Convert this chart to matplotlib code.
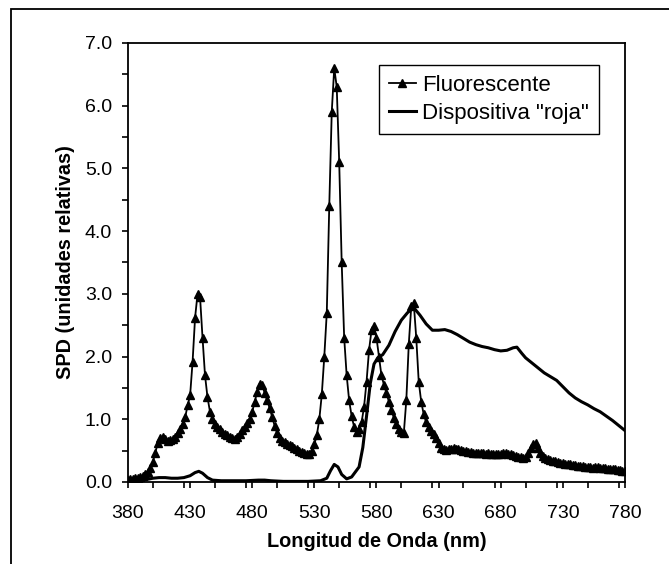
import matplotlib
matplotlib.use("Agg")
import matplotlib.pyplot as plt
from matplotlib.patches import Rectangle
from matplotlib.ticker import MultipleLocator, FormatStrFormatter

plt.rcParams['font.family'] = ['Liberation Sans', 'DejaVu Sans']

# Fluorescente, cada 2 nm (380..780)
wl_fluo = list(range(380, 781, 2))
spd_fluo = [
    0.03, 0.04, 0.05, 0.06, 0.07, 0.08, 0.10, 0.12, 0.16, 0.22,   # 380-398
    0.32, 0.47, 0.62, 0.70, 0.72, 0.68, 0.66, 0.67, 0.68, 0.72,   # 400-418
    0.78, 0.85, 0.93, 1.03, 1.22, 1.38, 1.92, 2.62, 3.00, 2.95,   # 420-438
    2.30, 1.70, 1.35, 1.12, 1.00, 0.93, 0.88, 0.84, 0.80, 0.77,   # 440-458
    0.75, 0.72, 0.70, 0.69, 0.72, 0.77, 0.83, 0.88, 0.94, 1.00,   # 460-478
    1.12, 1.28, 1.44, 1.57, 1.55, 1.42, 1.30, 1.18, 1.04, 0.90,   # 480-498
    0.78, 0.70, 0.66, 0.63, 0.61, 0.59, 0.57, 0.55, 0.53, 0.50,   # 500-518
    0.48, 0.47, 0.45, 0.44, 0.50, 0.60, 0.75, 1.00, 1.40, 2.00,   # 520-538
    2.70, 4.40, 5.90, 6.60, 6.30, 5.10, 3.50, 2.30, 1.70, 1.30,   # 540-558
    1.05, 0.88, 0.80, 0.85, 0.95, 1.20, 1.60, 2.10, 2.42, 2.48,   # 560-578
    2.30, 2.00, 1.70, 1.55, 1.42, 1.28, 1.15, 1.02, 0.93, 0.85,   # 580-598
    0.80, 0.78, 1.30, 2.20, 2.80, 2.85, 2.30, 1.60, 1.28, 1.08,   # 600-618
    0.95, 0.88, 0.82, 0.76, 0.70, 0.62, 0.55, 0.52, 0.51, 0.52,   # 620-638
    0.52, 0.54, 0.53, 0.52, 0.51, 0.50, 0.49, 0.48, 0.48, 0.47,   # 640-658
    0.47, 0.46, 0.46, 0.46, 0.45, 0.46, 0.45, 0.45, 0.45, 0.44,   # 660-678
    0.45, 0.46, 0.46, 0.45, 0.44, 0.43, 0.41, 0.40, 0.40, 0.39,   # 680-698
    0.40, 0.46, 0.54, 0.60, 0.62, 0.55, 0.47, 0.42, 0.38, 0.36,   # 700-718
    0.35, 0.34, 0.33, 0.32, 0.31, 0.30, 0.29, 0.29, 0.28, 0.27,   # 720-738
    0.27, 0.26, 0.25, 0.25, 0.24, 0.24, 0.24, 0.23, 0.24, 0.24,   # 740-758
    0.23, 0.22, 0.22, 0.21, 0.21, 0.20, 0.20, 0.19, 0.19, 0.18,   # 760-778
    0.18,                                                         # 780
]

# Dispositiva "roja"
wl_roja = [380, 385, 390, 395, 400, 405, 410, 415, 420, 425, 430, 434, 437,
           440, 444, 448, 455, 465, 475, 485, 490, 495, 505, 515, 525, 535,
           540, 543, 546, 549, 552, 556, 560, 563, 566, 569, 572, 575, 578,
           581, 585, 590, 595, 600, 605, 610, 615, 620, 625, 630, 635, 640,
           645, 650, 655, 660, 665, 670, 675, 680, 685, 690, 693, 697, 700,
           705, 710, 715, 720, 725, 730, 735, 740, 745, 750, 755, 760, 765,
           770, 775, 780]
spd_roja = [0.00, 0.01, 0.02, 0.04, 0.06, 0.07, 0.07, 0.06, 0.06, 0.07, 0.10,
            0.15, 0.17, 0.14, 0.07, 0.03, 0.02, 0.02, 0.02, 0.03, 0.03, 0.02,
            0.01, 0.01, 0.01, 0.02, 0.06, 0.18, 0.28, 0.24, 0.12, 0.05, 0.08,
            0.16, 0.24, 0.55, 1.05, 1.57, 1.88, 1.98, 2.03, 2.18, 2.40, 2.58,
            2.70, 2.78, 2.66, 2.52, 2.42, 2.42, 2.43, 2.40, 2.35, 2.29, 2.23,
            2.19, 2.16, 2.14, 2.11, 2.09, 2.10, 2.14, 2.15, 2.05, 1.98, 1.90,
            1.82, 1.74, 1.68, 1.62, 1.52, 1.42, 1.34, 1.28, 1.23, 1.17, 1.12,
            1.05, 0.98, 0.90, 0.82]

labels = ["Fluorescente", 'Dispositiva "roja"']
x_ticks = [380, 430, 480, 530, 580, 630, 680, 730, 780]

fig = plt.figure(figsize=(6.69, 5.64), dpi=100)
ax = fig.add_axes([0.1913, 0.1454, 0.7429, 0.7784])

ax.plot(wl_fluo, spd_fluo, color="black", lw=1.3, marker="^", ms=5.5,
        label=labels[0])
ax.plot(wl_roja, spd_roja, color="black", lw=2.2, label=labels[1])

ax.set_xlim(380, 780)
ax.set_ylim(0, 7)
ax.set_xticks(x_ticks)
ax.xaxis.set_minor_locator(MultipleLocator(25))
ax.yaxis.set_major_locator(MultipleLocator(1))
ax.yaxis.set_minor_locator(MultipleLocator(0.5))
ax.yaxis.set_major_formatter(FormatStrFormatter("%.1f"))
ax.tick_params(which="both", direction="out", length=4.5, width=1.2,
               labelsize=14)
ax.tick_params(axis="x", which="major", pad=12)
ax.tick_params(axis="y", which="major", pad=7)
for s in ax.spines.values():
    s.set_linewidth(1.3)

ax.set_xlabel("Longitud de Onda (nm)", fontsize=14.3, fontweight="bold",
              labelpad=7)
ax.set_ylabel("SPD (unidades relativas)", fontsize=14.3, fontweight="bold",
              labelpad=7)

leg = ax.legend(loc="upper right", bbox_to_anchor=(0.948, 0.95),
                borderaxespad=0, fancybox=False, framealpha=1,
                edgecolor="black", fontsize=16, handlelength=1.2,
                handletextpad=0.3, borderpad=0.45, labelspacing=0.3)
leg.get_frame().set_linewidth(1.0)

# marco exterior (recortado a la derecha y abajo)
fig.patches.append(Rectangle((10.5 / 669, -0.05), 1.2, 1 - 9.3 / 564 + 0.05,
                             transform=fig.transFigure, fill=False,
                             edgecolor="black", lw=1.3))

fig.savefig("out.png", dpi=100)
